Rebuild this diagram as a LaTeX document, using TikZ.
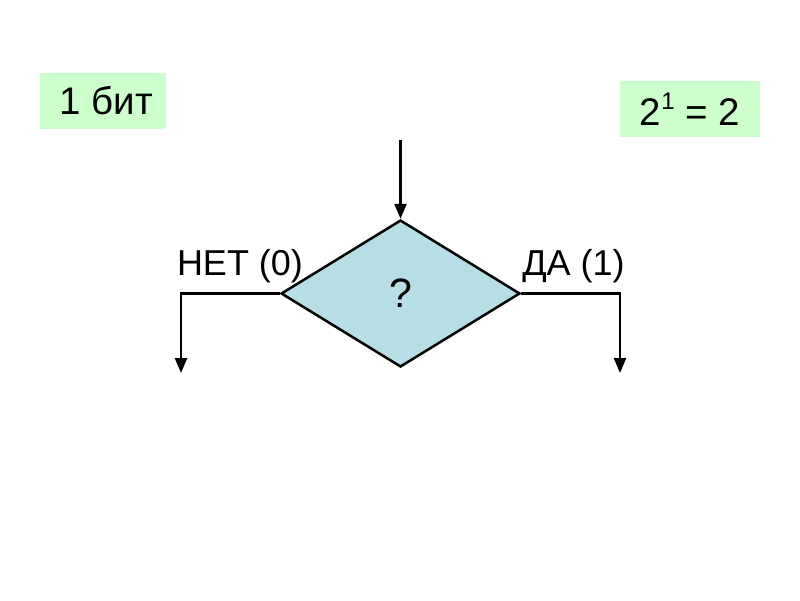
\documentclass[tikz,border=0pt]{standalone}
\usepackage{fontspec}
\setmainfont{Liberation Sans}
\usetikzlibrary{shapes.geometric,arrows.meta}
\definecolor{boxgreen}{RGB}{204,255,204}
\definecolor{diamondblue}{RGB}{183,222,228}
\begin{document}
\begin{tikzpicture}[x=1pt,y=-1pt,
  conn/.style={line width=2.5pt,-{Triangle[width=12pt,length=15pt]}},
  infobox/.style={fill=boxgreen,inner sep=0pt,font=\fontsize{38.5}{44}\selectfont},
  lbl/.style={inner sep=0pt,anchor=base,font=\fontsize{36}{42}\selectfont},
  decision/.style={diamond,draw,fill=diamondblue,line width=2.5pt,inner sep=0pt,
    minimum width=239pt,minimum height=147pt,font=\fontsize{41}{44}\selectfont}]
\useasboundingbox (0,0) rectangle (800,600);
\node[infobox,minimum width=126pt,minimum height=56pt] (bit) at (103,101) {\hspace*{6pt}1 бит};
\node[infobox,minimum width=140pt,minimum height=56pt] (pow) at (690,109) {2\raisebox{0.42em}{\fontsize{24}{26}\selectfont 1} = 2};
\node[decision] (q) at (400.5,293.5) {\raisebox{-3pt}{?}};
\coordinate (in) at (400.5,140);
\coordinate (l1) at (181,293.5);
\coordinate (l2) at (181,373);
\coordinate (r1) at (620,293.5);
\coordinate (r2) at (620,373);
\draw[conn] (in) -- (q.north);
\draw[conn] (q.west) -- (l1) -- (l2);
\draw[conn] (q.east) -- (r1) -- (r2);
\node[lbl] (no) at (240,275) {НЕТ (0)};
\node[lbl] (yes) at (573.5,275) {ДА (1)};
\end{tikzpicture}
\end{document}
